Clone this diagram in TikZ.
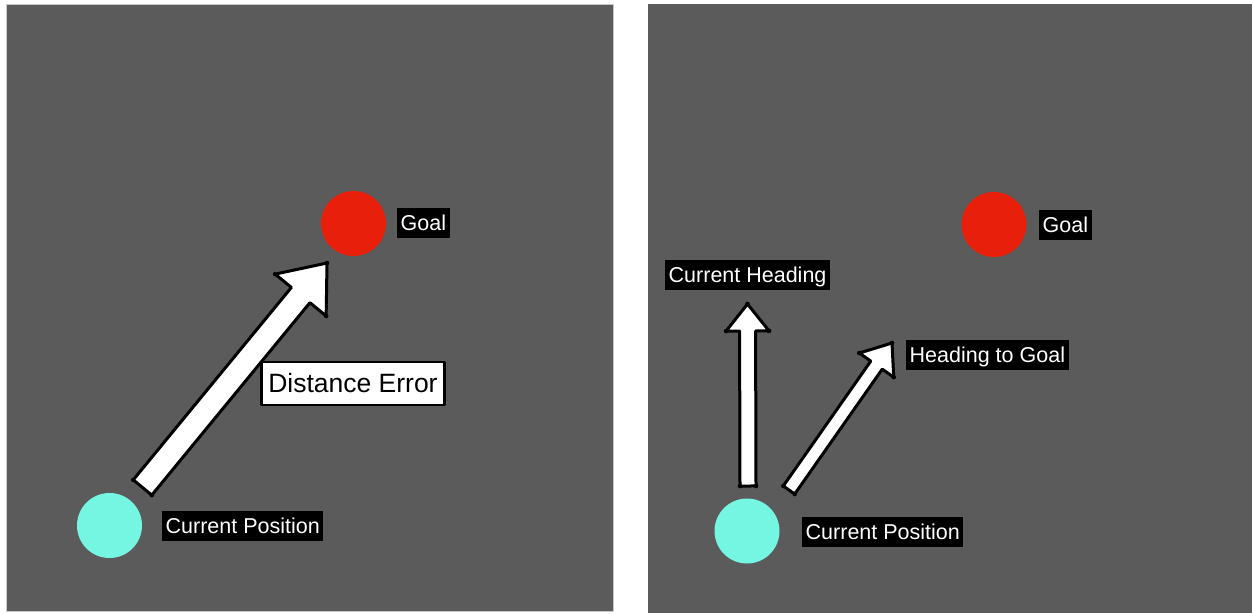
\documentclass[tikz,border=0pt]{standalone}
\usepackage{fontspec}
\setmainfont{Liberation Sans}
\usetikzlibrary{calc}
\definecolor{panelgray}{HTML}{5B5B5B}
\definecolor{panelrim}{HTML}{C8C8C8}
\definecolor{goalred}{HTML}{E81F0B}
\definecolor{startcyan}{HTML}{75F6E3}
\tikzset{
  panel/.style={fill=panelgray, draw=none},
  goaldot/.style={circle, fill=goalred, minimum size=65, inner sep=0},
  startdot/.style={circle, fill=startcyan, minimum size=65, inner sep=0},
  tag/.style={fill=black, text=white, font=\fontsize{21.5}{24}\selectfont,
    text height=22.5, text depth=7.5, inner xsep=3.5, inner ysep=0, anchor=west},
  errtag/.style={fill=white, draw=black, line width=2.5, line join=round,
    text=black, font=\fontsize{26.5}{30}\selectfont,
    text height=30.5, text depth=12.5, inner xsep=7, inner ysep=0, anchor=west},
  fatarrow/.style={fill=white, draw=black, line width=3, line join=round},
  cornerdot/.style={fill=black, draw=none},
}
% block arrow: tail, tip, shaft half width, head half width, head length
\newcommand\blockarrow[5]{%
  \coordinate (ba-h) at ($(#2)!#5!(#1)$);
  \draw[fatarrow]
    ($(#1)!#3!90:(#2)$) coordinate (ba-1)
    -- ($(ba-h)!#3!90:(#2)$) coordinate (ba-2)
    -- ($(ba-h)!#4!90:(#2)$) coordinate (ba-3)
    -- (#2)
    -- ($(ba-h)!#4!-90:(#2)$) coordinate (ba-5)
    -- ($(ba-h)!#3!-90:(#2)$) coordinate (ba-6)
    -- ($(#1)!#3!-90:(#2)$) coordinate (ba-7)
    -- cycle;
  \foreach \c in {ba-1,ba-3,#2,ba-5,ba-7}
    \fill[cornerdot] (\c) circle (2.3);
}
\begin{document}
\begin{tikzpicture}[x=1pt, y=-1pt]
  \useasboundingbox (0,0) rectangle (1252,613);
  \fill[white] (0,0) rectangle (1252,613);

  % left panel: distance error
  \fill[panel] (6,4) rectangle (613,611);
  \draw[panelrim, line width=0.8] (6,4) rectangle (613,611);

  \node[goaldot] (goalL) at (353.5,223.5) {};
  \node[tag] (goalLtag) at (397,223) {Goal};
  \node[startdot] (startL) at (109.5,525.5) {};
  \node[tag] (startLtag) at (162,526) {Current Position};

  \coordinate (tailA) at (142.5,487.5);
  \coordinate (tipA) at (327,263);
  \blockarrow{tailA}{tipA}{12pt}{33pt}{41.5pt}
  \node[errtag] (distErr) at (260,383.5) {Distance Error};

  % right panel: heading error
  \fill[panel] (648,4) rectangle (1252,613);

  \node[goaldot] (goalR) at (994,224.5) {};
  \node[tag] (goalRtag) at (1039,224.5) {Goal};
  \node[startdot] (startR) at (747,531) {};
  \node[tag] (startRtag) at (802,531.5) {Current Position};

  \coordinate (tailH) at (748,486);
  \coordinate (tipH) at (747.5,304);
  \blockarrow{tailH}{tipH}{8pt}{21.5pt}{27pt}
  \node[tag] (headTag) at (665,275) {Current Heading};

  \coordinate (tailG) at (789,490);
  \coordinate (tipG) at (892,343);
  \blockarrow{tailG}{tipG}{7pt}{21pt}{27pt}
  \node[tag] (goalHeadTag) at (906,355) {Heading to Goal};
\end{tikzpicture}
\end{document}
